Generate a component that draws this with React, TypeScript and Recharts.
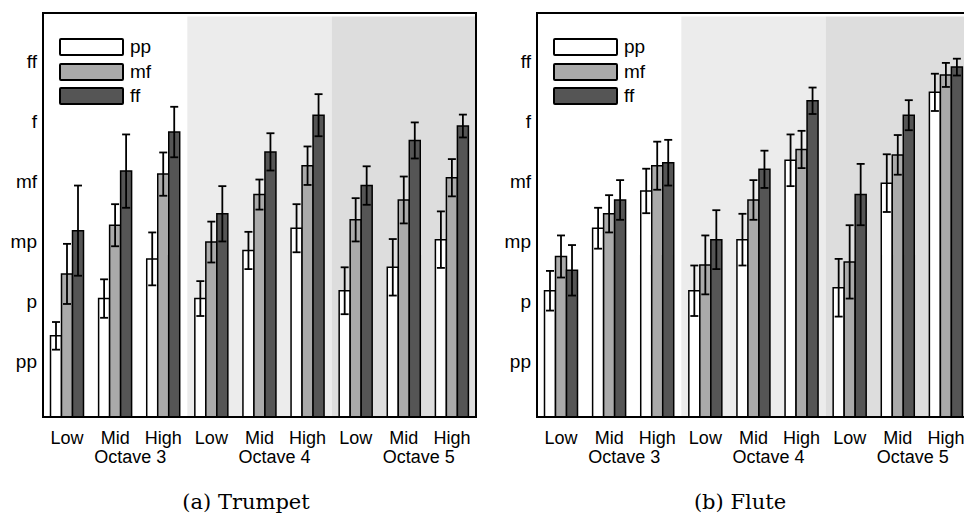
import React from 'react';
import { BarChart, Bar, XAxis, YAxis, ErrorBar, ReferenceArea } from 'recharts';

// categories along x
const pitches = ['Low', 'Mid', 'High', 'Low', 'Mid', 'High', 'Low', 'Mid', 'High'];
const octaves = [3, 3, 3, 4, 4, 4, 5, 5, 5];

// dynamic levels on y (pp = 1 ... ff = 6)
const levelLabels = ['pp', 'p', 'mp', 'mf', 'f', 'ff'];
const levelTicks = [1, 2, 3, 4, 5, 6];

// Trumpet
const trumpetPp = [1.43, 2.05, 2.71, 2.05, 2.85, 3.22, 2.18, 2.57, 3.03];
const trumpetPpErr = [0.23, 0.32, 0.44, 0.29, 0.31, 0.4, 0.39, 0.47, 0.47];
const trumpetMf = [2.46, 3.27, 4.12, 2.99, 3.78, 4.26, 3.36, 3.69, 4.06];
const trumpetMfErr = [0.5, 0.35, 0.36, 0.34, 0.25, 0.32, 0.36, 0.39, 0.31];
const trumpetFf = [3.18, 4.17, 4.82, 3.46, 4.49, 5.1, 3.93, 4.68, 4.92];
const trumpetFfErr = [0.75, 0.61, 0.42, 0.46, 0.31, 0.35, 0.32, 0.3, 0.19];

// Flute
const flutePp = [2.18, 3.22, 3.84, 2.18, 3.03, 4.35, 2.23, 3.97, 5.48];
const flutePpErr = [0.33, 0.34, 0.37, 0.42, 0.43, 0.43, 0.48, 0.48, 0.31];
const fluteMf = [2.75, 3.46, 4.26, 2.61, 3.69, 4.53, 2.66, 4.44, 5.77];
const fluteMfErr = [0.35, 0.31, 0.4, 0.49, 0.33, 0.31, 0.61, 0.33, 0.2];
const fluteFf = [2.52, 3.69, 4.31, 3.03, 4.2, 5.34, 3.78, 5.1, 5.9];
const fluteFfErr = [0.42, 0.33, 0.38, 0.49, 0.31, 0.22, 0.51, 0.25, 0.14];

const series = [
    { key: 'pp', fill: '#ffffff' },
    { key: 'mf', fill: '#aaaaaa' },
    { key: 'ff', fill: '#555555' },
];

const SANS = '"Liberation Sans", Arial, Helvetica, sans-serif';
const Y_MIN = 0.08;
const Y_MAX = 6.8;

const buildRows = (pp: number[], ppErr: number[], mf: number[], mfErr: number[], ff: number[], ffErr: number[]) =>
    pitches.map((p, i) => ({
        key: `${p} ${octaves[i]}`,
        pp: pp[i], ppErr: ppErr[i],
        mf: mf[i], mfErr: mfErr[i],
        ff: ff[i], ffErr: ffErr[i],
    }));

// x tick: pitch name, plus the octave under the "Mid" tick
const GroupTick = ({ x, y, payload }: any) => {
    const [pitch, oct] = String(payload.value).split(' ');
    return (
        <g>
            <text x={x} y={y + 24.5} textAnchor="middle" fill="#000" fontSize={18} fontFamily={SANS}>{pitch}</text>
            {pitch === 'Mid' && (
                <text x={x + 15} y={y + 44} textAnchor="middle" fill="#000" fontSize={18} fontFamily={SANS}>
                    {`Octave ${oct}`}
                </text>
            )}
        </g>
    );
};

const LegendBox = ({ left }: { left: number }) => (
    <div style={{ position: 'absolute', left, top: 38 }}>
        {series.map((s, i) => (
            <div key={s.key} style={{ position: 'absolute', left: 0, top: i * 24.5, display: 'flex', alignItems: 'center', height: 18 }}>
                <div style={{ width: 61, height: 14, background: s.fill, border: '2px solid #000', borderRadius: 2 }} />
                <span style={{ marginLeft: 6, fontFamily: SANS, fontSize: 19, lineHeight: '18px', color: '#000' }}>{s.key}</span>
            </div>
        ))}
    </div>
);

interface PanelProps {
    data: any[];
    left: number;
    caption: string;
    captionX: number;
}

const Panel: React.FC<PanelProps> = ({ data, left, caption, captionX }) => (
    <>
        <div style={{ position: 'absolute', left, top: 0 }}>
            <BarChart
                width={478}
                height={467}
                data={data}
                margin={{ top: 13, right: 2, left: 0, bottom: 0 }}
                barCategoryGap={7.5}
                barGap={0}
            >
                <ReferenceArea x1="Low 4" x2="High 4" y1={Y_MIN} y2={6.74} fill="#ececec" fillOpacity={1} stroke="none" />
                <ReferenceArea x1="Low 5" x2="High 5" y1={Y_MIN} y2={6.74} fill="#dddddd" fillOpacity={1} stroke="none" />
                {/* plot frame */}
                <ReferenceArea x1="Low 3" x2="High 5" y1={Y_MIN} y2={Y_MAX} fill="none" stroke="#000" strokeWidth={2} />
                <XAxis
                    dataKey="key"
                    height={50}
                    tickSize={0}
                    tickLine={false}
                    interval={0}
                    tick={<GroupTick />}
                    axisLine={{ stroke: '#000', strokeWidth: 2 }}
                />
                <YAxis
                    type="number"
                    domain={[Y_MIN, Y_MAX]}
                    ticks={levelTicks}
                    allowDataOverflow
                    width={43}
                    tickSize={0}
                    tickMargin={6}
                    tickLine={false}
                    tickFormatter={(v: number) => levelLabels[v - 1]}
                    tick={{ fill: '#000', fontSize: 19, fontFamily: SANS }}
                    axisLine={{ stroke: '#000', strokeWidth: 2 }}
                />
                {series.map((s) => (
                    <Bar key={s.key} dataKey={s.key} fill={s.fill} stroke="#000" strokeWidth={1.5} isAnimationActive={false}>
                        <ErrorBar dataKey={`${s.key}Err`} width={4} stroke="#000" strokeWidth={1.8} direction="y" />
                    </Bar>
                ))}
            </BarChart>
        </div>
        <LegendBox left={left + 59} />
        <div style={{
            position: 'absolute', left: captionX - 100, width: 200, top: 490, textAlign: 'center',
            fontFamily: '"DejaVu Serif", "Liberation Serif", serif', fontSize: 21, color: '#000',
        }}>
            {caption}
        </div>
    </>
);

export default function App() {
    const trumpet = buildRows(trumpetPp, trumpetPpErr, trumpetMf, trumpetMfErr, trumpetFf, trumpetFfErr);
    const flute = buildRows(flutePp, flutePpErr, fluteMf, fluteMfErr, fluteFf, fluteFfErr);
    return (
        <div style={{ position: 'absolute', left: 0, top: 0, width: 964, height: 519, overflow: 'hidden', background: '#fff' }}>
            <Panel data={trumpet} left={0} caption="(a) Trumpet" captionX={246} />
            <Panel data={flute} left={494} caption="(b) Flute" captionX={740} />
        </div>
    );
}
